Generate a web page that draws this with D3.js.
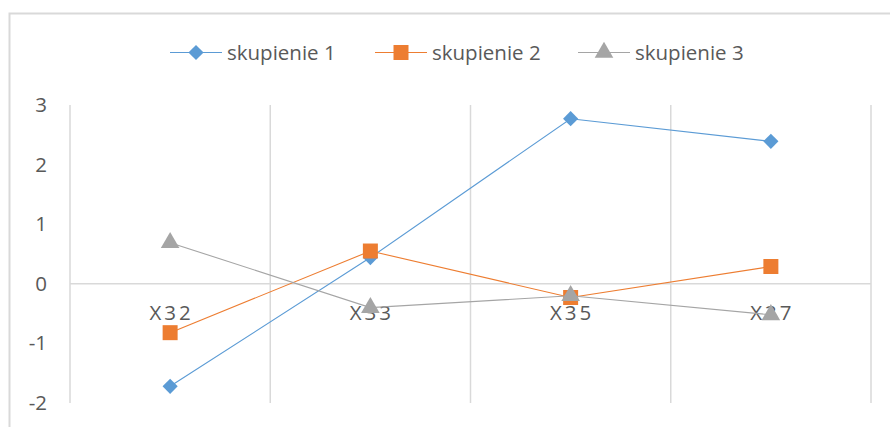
<!DOCTYPE html>
<html><head><meta charset="utf-8">
<script src="https://cdn.jsdelivr.net/npm/d3@7"></script>
<style>html,body{margin:0;padding:0;background:#fff;overflow:hidden}</style>
</head><body>
<svg id="chart" width="890" height="427"></svg>
<script>
const categories = ["X32", "X33", "X35", "X37"];
const seriesNames = ["skupienie 1", "skupienie 2", "skupienie 3"];
const s1 = [-1.72, 0.44, 2.77, 2.39];
const s2 = [-0.82, 0.55, -0.23, 0.29];
const s3 = [0.69, -0.40, -0.20, -0.52];
const yTicks = [-2, -1, 0, 1, 2, 3];
const colors = ["#5B9BD5", "#ED7D31", "#A5A5A5"];
const symbols = [d3.symbolSquare, d3.symbolSquare, d3.symbolTriangle];
const rotations = [45, 0, 0];
const seriesValues = [s1, s2, s3];

const font = "'Open Sans', sans-serif";
const fs = 20.5;
const textColor = "#595959";
const gridColor = "#d9d9d9";
const svg = d3.select("#chart");

// outer frame
svg.append("rect").attr("x", 9.5).attr("y", 13.5).attr("width", 900).attr("height", 430)
  .attr("fill", "none").attr("stroke", "#d9d9d9").attr("stroke-width", 2);

const x = d3.scaleBand().domain(categories).range([70, 871]).padding(0);
const y = d3.scaleLinear().domain([-2, 3]).range([403, 105]);

// vertical gridlines at band boundaries
const bounds = categories.map(c => x(c)).concat([x.range()[1]]);
svg.append("g").selectAll("line").data(bounds).join("line")
  .attr("x1", d => d).attr("x2", d => d)
  .attr("y1", y(3)).attr("y2", y(-2))
  .attr("stroke", gridColor).attr("stroke-width", 1.5);

// zero line (category axis)
svg.append("line").attr("x1", x.range()[0]).attr("x2", x.range()[1])
  .attr("y1", y(0)).attr("y2", y(0)).attr("stroke", gridColor).attr("stroke-width", 1.5);

// y axis labels
const yAxis = d3.axisLeft(y).tickValues(yTicks).tickSize(0).tickPadding(0).tickFormat(d3.format("d"));
const yg = svg.append("g").attr("transform", "translate(47,0)").call(yAxis);
yg.select(".domain").remove();
yg.selectAll("text").attr("font-family", font).attr("font-size", fs).attr("fill", textColor)
  .text(d => d < 0 ? "-" + Math.abs(d) : d);

// category labels (drawn at the zero line)
svg.append("g").selectAll("text").data(categories).join("text")
  .attr("x", d => x(d) + x.bandwidth() / 2 + 1.5)
  .attr("y", y(0) + 36)
  .attr("text-anchor", "middle")
  .attr("font-family", font).attr("font-size", fs).attr("fill", textColor)
  .attr("letter-spacing", 3)
  .text(d => d);

// series
const line = d3.line().x((d, i) => x(categories[i]) + x.bandwidth() / 2).y(d => y(d));
const symSizes = [115, 225, 150];
seriesValues.forEach((vals, si) => {
  svg.append("path").datum(vals).attr("d", line).attr("fill", "none")
    .attr("stroke", colors[si]).attr("stroke-width", 1.1);
  svg.append("g").selectAll("path").data(vals).join("path")
    .attr("transform", (d, i) => `translate(${x(categories[i]) + x.bandwidth() / 2},${y(d)}) rotate(${rotations[si]})`)
    .attr("d", d3.symbol().type(symbols[si]).size(symSizes[si]))
    .attr("fill", colors[si]);
});

// legend
const legendItems = [
  {lx: 170, name: seriesNames[0]},
  {lx: 375, name: seriesNames[1]},
  {lx: 578, name: seriesNames[2]}
];
const lg = svg.append("g");
legendItems.forEach((it, si) => {
  const ly = 52.5;
  lg.append("line").attr("x1", it.lx).attr("x2", it.lx + 52).attr("y1", ly).attr("y2", ly)
    .attr("stroke", colors[si]).attr("stroke-width", 1.1);
  lg.append("path").attr("transform", `translate(${it.lx + 26},${ly}) rotate(${rotations[si]})`)
    .attr("d", d3.symbol().type(symbols[si]).size(symSizes[si])).attr("fill", colors[si]);
  lg.append("text").attr("x", it.lx + 57).attr("y", ly + 7.5)
    .attr("font-family", font).attr("font-size", fs).attr("fill", textColor).text(it.name);
});
</script>
</body></html>
